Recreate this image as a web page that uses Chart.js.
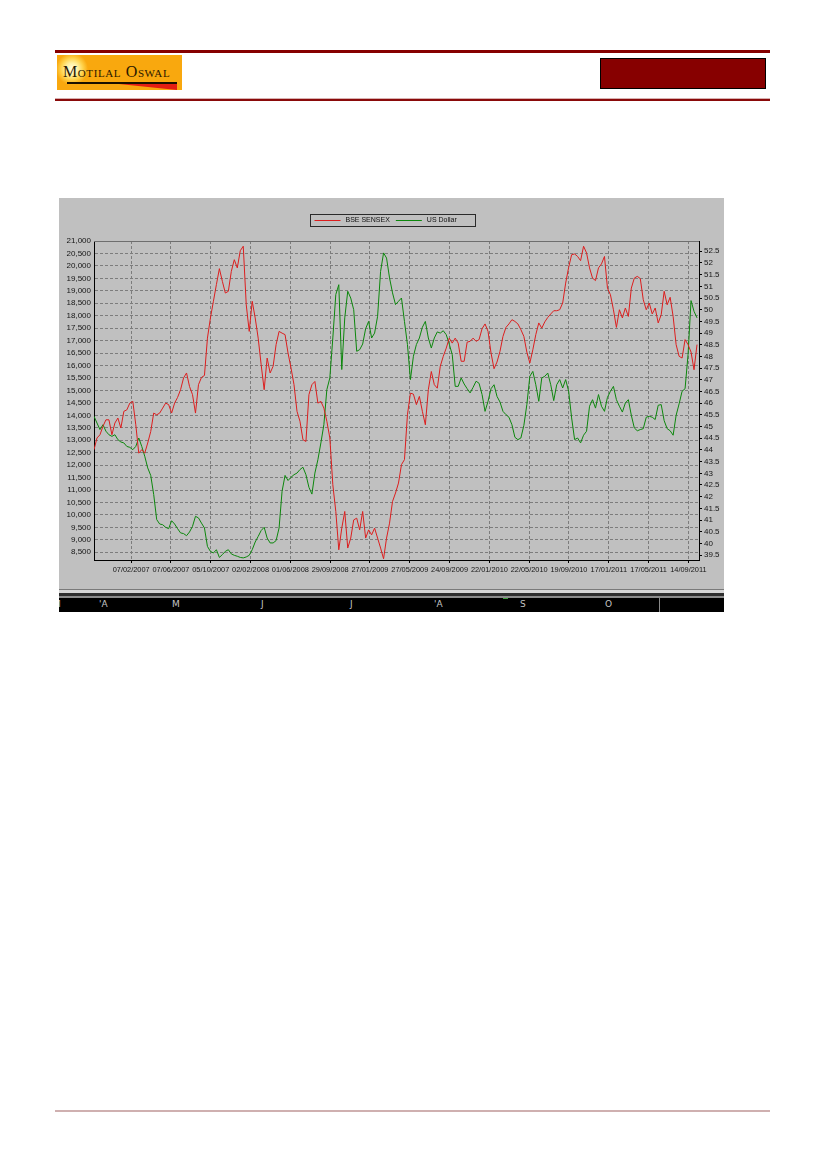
<!DOCTYPE html>
<html>
<head>
<meta charset="utf-8">
<title>BSE SENSEX vs US Dollar</title>
<script src="https://cdn.jsdelivr.net/npm/chart.js@4/dist/chart.umd.min.js"></script>
<style>
  body { margin: 0; background: #fff; width: 827px; height: 1170px; position: relative; overflow: hidden; font-family: "Liberation Sans", Arial, sans-serif; }
  .abs { position: absolute; }
  #topLine { left: 55px; top: 50px; width: 715px; height: 3px; background: #860000; }
  #logo { left: 57px; top: 55px; width: 125px; height: 35px; overflow: hidden;
          background: radial-gradient(circle at 15px 14px, #fffde8 0, #fff0a0 6px, #ffd24a 11px, rgba(251,170,20,0) 16px), #f9a80e; }
  #logoText { left: 6px; top: 8px; font-family: "Liberation Serif", "DejaVu Serif", serif; font-variant: small-caps; font-size: 16px; color: #2b1800; letter-spacing: 0.6px; white-space: nowrap; }
  #logoRule { left: 10px; top: 27px; width: 110px; height: 2px; background: #1a1000; }
  #logoSwoosh { left: 62px; top: 29px; width: 58px; height: 6px; background: #e41e12; clip-path: polygon(0 0, 100% 0, 100% 100%); }
  #redBox { left: 600px; top: 58px; width: 164px; height: 29px; background: #870000; border: 1px solid #000; }
  #headLine1 { left: 55px; top: 98px; width: 715px; height: 1px; background: #d8b0b0; }
  #headLine2 { left: 55px; top: 99px; width: 715px; height: 2px; background: #8a0a0a; }
  #footLine { left: 55px; top: 1110px; width: 715px; height: 2px; background: #cfb0b0; }
  #chartBox { left: 59px; top: 198px; width: 665px; height: 414px; background: #c0c0c0; overflow: hidden; }
  #chartBox canvas { position: absolute; left: 0; top: 0; }
  .strip { position: absolute; left: 0; width: 665px; }
  #bar { position: absolute; left: 0; top: 400px; width: 665px; height: 14px; background: #000; overflow: hidden; }
  #bar span { position: absolute; top: 1px; font-family: "DejaVu Sans", sans-serif; font-size: 9px; color: #c4c4c4; }
</style>
</head>
<body>
<div id="topLine" class="abs"></div>
<div id="logo" class="abs">
  <div id="logoText" class="abs">Motilal Oswal</div>
  <div id="logoRule" class="abs"></div>
  <div id="logoSwoosh" class="abs"></div>
</div>
<div id="redBox" class="abs"></div>
<div id="headLine1" class="abs"></div>
<div id="headLine2" class="abs"></div>

<div id="chartBox" class="abs">
  <canvas id="sensexChart" width="665" height="392"></canvas>
  <div class="strip" style="top:391px;height:1px;background:#7a7a7a"></div>
  <div class="strip" style="top:392px;height:3px;background:#d6d6d6"></div>
  <div class="strip" style="top:395px;height:3px;background:#2e2e2e"></div>
  <div class="strip" style="top:398px;height:2px;background:#8c8c8c"></div>
  <div id="bar">
    <span style="left:-6px">M</span>
    <span style="left:40px">'A</span>
    <span style="left:113px">M</span>
    <span style="left:202px">J</span>
    <span style="left:291px">J</span>
    <span style="left:375px">'A</span>
    <span style="left:461px">S</span>
    <span style="left:546px">O</span>
    <div style="position:absolute;left:600px;top:0;width:1px;height:14px;background:#8a8a8a"></div>
    <div style="position:absolute;left:444px;top:0;width:5px;height:1px;background:#3c9c3c"></div>
  </div>
</div>

<div id="footLine" class="abs"></div>

<script>
// Daily closes sampled every 9 days, starting 18/10/2006
const startDate = Date.UTC(2006, 9, 18);
const stepDays = 9;

// BSE SENSEX (left axis)
const sensex = [
  12620, 13090, 13220, 13560, 13820, 13820, 13220, 13690, 13890, 13490,
  14160, 14220, 14490, 14560, 13620, 12480, 12620, 12480, 12890, 13350,
  14090, 14020, 14090, 14290, 14490, 14430, 14090, 14490, 14720, 15030,
  15500, 15700, 15160, 14830, 14090, 15230, 15520, 15600, 17100, 17910,
  18580, 19250, 19890, 19380, 18910, 18980, 19780, 20250, 19920, 20610,
  20790, 18440, 17370, 18580, 17910, 17100, 16030, 15030, 16300, 15700,
  15970, 16840, 17370, 17300, 17240, 16500, 15900, 15230, 14160, 13760,
  13020, 12950, 14830, 15230, 15360, 14490, 14560, 14290, 13760, 13090,
  11210, 10140, 8600, 9470, 10140, 8670, 9070, 9800, 9870, 9400,
  10140, 9070, 9400, 9200, 9470, 9070, 8670, 8240, 9070, 9670,
  10540, 10880, 11280, 12020, 12220, 14020, 14890, 14850, 14430, 14760,
  14160, 13620, 15030, 15760, 15230, 15090, 15970, 16370, 16700, 17100,
  16900, 17100, 16900, 16170, 16170, 16940, 16970, 17100, 16970, 17040,
  17480, 17670, 17370, 16500, 15870, 16140, 16570, 17170, 17530, 17670,
  17840, 17770, 17670, 17440, 17170, 16540, 16100, 16630, 17240, 17710,
  17500, 17750, 17930, 18070, 18200, 18200, 18240, 18510, 19310, 19940,
  20450, 20480, 20380, 20210, 20790, 20520, 19920, 19510, 19410, 19920,
  20080, 20380, 19110, 18840, 18240, 17530, 18240, 17910, 18310, 17970,
  19110, 19510, 19580, 19490, 18640, 18240, 18510, 18070, 18310, 17710,
  18040, 18980, 18440, 18740, 17970, 16840, 16370, 16300, 17040, 16840,
  16540, 15830, 16840
];

// US Dollar in rupees (right axis)
const usDollar = [
  45.44, 45.15, 44.87, 45.08, 44.80, 44.65, 44.58, 44.65, 44.44, 44.34,
  44.30, 44.15, 44.11, 44.01, 44.15, 44.51, 44.15, 43.73, 43.23, 42.91,
  42.09, 41.02, 40.83, 40.80, 40.69, 40.63, 40.97, 40.83, 40.63, 40.45,
  40.42, 40.33, 40.49, 40.73, 41.16, 41.09, 40.87, 40.66, 39.87, 39.66,
  39.59, 39.73, 39.40, 39.52, 39.66, 39.73, 39.55, 39.49, 39.45, 39.40,
  39.38, 39.42, 39.49, 39.73, 40.06, 40.30, 40.55, 40.69, 40.23, 40.02,
  40.02, 40.12, 40.66, 42.23, 42.91, 42.69, 42.83, 42.94, 43.01, 43.16,
  43.26, 42.94, 42.40, 42.11, 43.01, 43.58, 44.30, 45.08, 46.58, 47.08,
  48.79, 50.65, 51.07, 47.44, 49.65, 50.79, 50.50, 50.00, 48.22, 48.29,
  48.53, 49.19, 49.50, 48.79, 49.00, 49.72, 51.64, 52.43, 52.21, 51.36,
  50.72, 50.22, 50.36, 50.50, 49.50, 48.51, 47.01, 48.01, 48.51, 48.79,
  49.25, 49.50, 48.79, 48.36, 48.79, 49.05, 49.00, 49.10, 48.93, 48.53,
  48.08, 46.72, 46.72, 47.08, 46.82, 46.62, 46.44, 46.68, 46.94, 46.85,
  46.37, 45.65, 46.08, 46.62, 46.79, 46.29, 46.05, 45.65, 45.51, 45.40,
  45.08, 44.54, 44.44, 44.51, 45.05, 45.94, 47.15, 47.36, 46.79, 46.08,
  47.08, 47.15, 47.29, 46.79, 46.11, 46.79, 47.01, 46.65, 47.01, 46.51,
  45.37, 44.44, 44.51, 44.30, 44.63, 44.80, 45.87, 46.15, 45.79, 46.37,
  45.87, 45.65, 46.25, 46.51, 46.72, 46.15, 45.87, 45.62, 46.01, 46.15,
  45.48, 44.94, 44.82, 44.87, 44.91, 45.40, 45.44, 45.40, 45.30, 45.91,
  45.94, 45.25, 44.91, 44.82, 44.63, 45.48, 45.97, 46.51, 46.62, 48.08,
  50.39, 49.93, 49.65
];

// Axis ticks
const dateTicks = ['07/02/2007', '07/06/2007', '05/10/2007', '02/02/2008', '01/06/2008',
  '29/09/2008', '27/01/2009', '27/05/2009', '24/09/2009', '22/01/2010',
  '22/05/2010', '19/09/2010', '17/01/2011', '17/05/2011', '14/09/2011'];
const sensexTicks = [8500, 9000, 9500, 10000, 10500, 11000, 11500, 12000, 12500, 13000,
  13500, 14000, 14500, 15000, 15500, 16000, 16500, 17000, 17500, 18000,
  18500, 19000, 19500, 20000, 20500, 21000];
const dollarTicks = [39.5, 40, 40.5, 41, 41.5, 42, 42.5, 43, 43.5, 44, 44.5, 45, 45.5,
  46, 46.5, 47, 47.5, 48, 48.5, 49, 49.5, 50, 50.5, 51, 51.5, 52, 52.5];

const DAY = 86400000;

// Turn a dd/mm/yyyy string into a day number
function toDay(str) {
    const [d, m, y] = str.split('/').map(Number);
    return Date.UTC(y, m - 1, d) / DAY;
}

// Turn a day number back into dd/mm/yyyy
function dayLabel(day) {
    const dt = new Date(day * DAY);
    const pad = n => String(n).padStart(2, '0');
    return pad(dt.getUTCDate()) + '/' + pad(dt.getUTCMonth() + 1) + '/' + dt.getUTCFullYear();
}

function withCommas(v) {
    return String(v).replace(/\B(?=(\d{3})+(?!\d))/g, ',');
}

const firstDay = startDate / DAY;
const days = sensex.map((_, i) => firstDay + i * stepDays);

// Legend drawn in a framed box, like the original terminal chart
const legendBox = {
    id: 'legendBox',
    afterDraw(chart) {
        const ctx = chart.ctx;
        const sets = chart.data.datasets;
        ctx.save();
        ctx.font = '7px "Liberation Sans", Arial, sans-serif';
        const left = 251.5, top = 16.5, width = 165, height = 12;
        const cy = top + height / 2;
        ctx.lineWidth = 1;
        ctx.strokeStyle = '#2a2a2a';
        ctx.strokeRect(left, top, width, height);
        ctx.textBaseline = 'middle';
        let x = left + 4;
        sets.forEach(ds => {
            ctx.strokeStyle = ds.borderColor;
            ctx.beginPath();
            ctx.moveTo(x, cy);
            ctx.lineTo(x + 26, cy);
            ctx.stroke();
            x += 31;
            ctx.fillStyle = '#111';
            ctx.fillText(ds.label, x, cy);
            x += ctx.measureText(ds.label).width + 6;
        });

        // top edge of the plot frame
        const area = chart.chartArea;
        ctx.strokeStyle = '#6e6e6e';
        ctx.beginPath();
        ctx.moveTo(area.left, Math.round(area.top) + 0.5);
        ctx.lineTo(area.right, Math.round(area.top) + 0.5);
        ctx.stroke();
        ctx.restore();
    }
};

Chart.defaults.font.family = '"Liberation Sans", Arial, sans-serif';
Chart.defaults.font.size = 8;
Chart.defaults.color = '#151515';

const ctx = document.getElementById('sensexChart').getContext('2d');

new Chart(ctx, {
    type: 'line',
    data: {
        datasets: [{
            label: 'BSE SENSEX',
            data: sensex.map((v, i) => ({ x: days[i], y: v })),
            yAxisID: 'y',
            borderColor: '#dc1e1e',
            backgroundColor: '#dc1e1e',
            borderWidth: 1,
            pointRadius: 0,
            tension: 0
        }, {
            label: 'US Dollar',
            data: usDollar.map((v, i) => ({ x: days[i], y: v })),
            yAxisID: 'y1',
            borderColor: '#0c870c',
            backgroundColor: '#0c870c',
            borderWidth: 1,
            pointRadius: 0,
            tension: 0
        }]
    },
    options: {
        responsive: false,
        animation: false,
        devicePixelRatio: 1,
        events: [],
        layout: { padding: { top: 43, left: 0, right: 0, bottom: 0 } },
        plugins: {
            legend: { display: false },
            tooltip: { enabled: false }
        },
        scales: {
            x: {
                type: 'linear',
                min: firstDay,
                max: firstDay + 1824,
                afterBuildTicks: scale => { scale.ticks = dateTicks.map(s => ({ value: toDay(s) })); },
                afterFit: scale => { scale.height = 30; },
                ticks: {
                    autoSkip: false,
                    maxRotation: 0,
                    padding: 3,
                    font: { size: 7.4 },
                    callback: v => dayLabel(v)
                },
                grid: { color: '#7c7c7c', tickColor: '#000', tickLength: 3 },
                border: { display: true, color: '#000', dash: [3, 2] }
            },
            y: {
                position: 'left',
                min: 8190,
                max: 21000,
                afterBuildTicks: scale => { scale.ticks = sensexTicks.map(v => ({ value: v })); },
                afterFit: scale => { scale.width = 35; },
                ticks: { autoSkip: false, padding: 3, callback: v => withCommas(v) },
                grid: { color: '#7c7c7c', drawTicks: false },
                border: { display: true, color: '#000', dash: [3, 2] }
            },
            y1: {
                position: 'right',
                min: 39.29,
                max: 52.94,
                afterBuildTicks: scale => { scale.ticks = dollarTicks.map(v => ({ value: v })); },
                afterFit: scale => { scale.width = 25; },
                ticks: { autoSkip: false, padding: 2, callback: v => String(v) },
                grid: { drawOnChartArea: false, color: '#000', tickLength: 3 },
                border: { display: true, color: '#000' }
            }
        }
    },
    plugins: [legendBox]
});
</script>
</body>
</html>
